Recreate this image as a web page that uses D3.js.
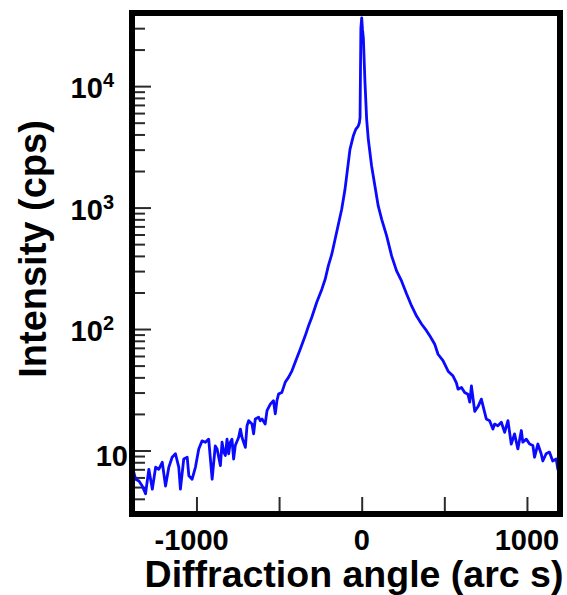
<!DOCTYPE html>
<html>
<head>
<meta charset="utf-8">
<script src="https://cdn.jsdelivr.net/npm/d3@7"></script>
<style>
  html, body { margin: 0; padding: 0; background: #fff; }
  svg { display: block; font-family: 'Liberation Sans', Arial, Helvetica, sans-serif; font-weight: bold; }
</style>
</head>
<body>
<svg id="chart" width="567" height="595"></svg>
<script>
// rocking curve (arc s, cps)
const angles = [
  -1388, -1368, -1348, -1328, -1308, -1288, -1267, -1247, -1228, -1207,
  -1187, -1167, -1147, -1127, -1107, -1097, -1077, -1056, -1046, -1026,
  -1006, -986, -966, -946, -926, -905, -886, -875, -855, -845,
  -835, -825, -815, -805, -795, -785, -775, -765, -745, -734,
  -724, -704, -694, -684, -664, -654, -644, -624, -614, -603,
  -584, -573, -553, -534, -523, -513, -503, -483, -463, -443,
  -422, -403, -372, -342, -322, -302, -272, -241, -221, -202,
  -181, -161, -141, -121, -101, -71, -51, -36, -21, -14,
  -10, -5, 0, 5, 10, 20, 30, 40, 60, 80,
  100, 121, 151, 181, 211, 241, 272, 302, 332, 362,
  392, 412, 442, 462, 492, 523, 553, 573, 583, 604,
  623, 643, 654, 664, 684, 704, 724, 744, 754, 774,
  794, 804, 824, 845, 865, 885, 905, 925, 945, 966,
  975, 996, 1016, 1036, 1046, 1066, 1086, 1096, 1116, 1136,
  1156, 1177, 1187, 1197
];
const intensity = [
  7.3, 5.8, 5.6, 5.1, 4.4, 7.0, 4.8, 7.3, 7.0, 8.0,
  5.1, 7.3, 8.8, 9.4, 7.3, 4.8, 8.5, 8.8, 6.2, 5.8,
  7.3, 10.3, 12.0, 11.7, 12.4, 5.8, 10.9, 10.3, 7.5, 11.7,
  9.7, 9.1, 12.4, 9.4, 11.7, 12.4, 8.5, 11.0, 12.8, 15.0,
  12.8, 10.6, 16.0, 17.6, 16.5, 13.7, 18.2, 18.8, 17.6, 18.2,
  16.5, 21.3, 24.1, 25.7, 20.0, 25.7, 29.2, 30.1, 36.4, 40.0,
  45.3, 53.1, 68.3, 87.9, 106, 125, 166, 213, 257, 331,
  413, 548, 729, 968, 1414, 3014, 3880, 4405, 4690, 5000,
  5500, 30000, 36500, 29000, 25000, 10600, 5325, 3645, 2198, 1506,
  1031, 801, 584, 400, 301, 249, 194, 155, 128, 110,
  97, 88, 75, 62, 55, 45, 41, 36, 32, 33,
  30, 29, 25, 34, 21, 23, 26.5, 20.6, 18.2, 17.6,
  15.0, 16.5, 16.0, 17.1, 14.1, 17.6, 11.3, 13.7, 10.3, 14.6,
  11.7, 12.4, 11.3, 11.0, 8.8, 11.3, 9.4, 8.2, 9.4, 9.7,
  8.2, 8.5, 7.0, 7.6
];

const xDomain = [-1390, 1200];
const yDomain = [3, 40000];
const xMajorTicks = [-1000, -500, 0, 500, 1000];
const xTickLabels = [-1000, 0, 1000];
const yMajorTicks = [10, 100, 1000, 10000];
const yTickExponents = ['', '2', '3', '4'];
const xTitle = 'Diffraction angle (arc s)';
const yTitle = 'Intensity (cps)';

const margin = { left: 132, right: 7, top: 13, bottom: 81 };
const width = 567;
const height = 595;
const svg = d3.select('#chart');

const x = d3.scaleLinear().domain(xDomain).range([margin.left, width - margin.right]);
const y = d3.scaleLog().domain(yDomain).range([height - margin.bottom, margin.top]);
const points = angles.map((a, i) => ({ a, v: intensity[i] }));

svg
  .append('defs')
  .append('clipPath')
  .attr('id', 'plot-clip')
  .append('rect')
  .attr('x', margin.left)
  .attr('y', margin.top)
  .attr('width', width - margin.left - margin.right)
  .attr('height', height - margin.top - margin.bottom);

// minor log ticks (2..9 of each decade), then the labelled decades
const minorTicks = y.ticks().filter((t) => !yMajorTicks.includes(t));
svg
  .append('g')
  .attr('transform', `translate(${margin.left},0)`)
  .call(d3.axisRight(y).tickValues(minorTicks).tickSize(13).tickFormat(''))
  .call((g) => g.select('.domain').remove())
  .call((g) => g.selectAll('line').attr('stroke', '#2a2a2a').attr('stroke-width', 2));
svg
  .append('g')
  .attr('transform', `translate(${margin.left},0)`)
  .call(d3.axisRight(y).tickValues(yMajorTicks).tickSize(19).tickFormat(''))
  .call((g) => g.select('.domain').remove())
  .call((g) => g.selectAll('line').attr('stroke', '#2a2a2a').attr('stroke-width', 2));

svg
  .append('g')
  .attr('transform', `translate(0,${height - margin.bottom})`)
  .call(d3.axisTop(x).tickValues(xMajorTicks).tickSize(17).tickFormat(''))
  .call((g) => g.select('.domain').remove())
  .call((g) => g.selectAll('line').attr('stroke', '#2a2a2a').attr('stroke-width', 2));

const line = d3
  .line()
  .x((d) => x(d.a))
  .y((d) => y(d.v));

svg
  .append('path')
  .datum(points)
  .attr('clip-path', 'url(#plot-clip)')
  .attr('fill', 'none')
  .attr('stroke', '#0a0aff')
  .attr('stroke-width', 2.8)
  .attr('stroke-linejoin', 'round')
  .attr('d', line);

svg
  .append('rect')
  .attr('x', margin.left)
  .attr('y', margin.top)
  .attr('width', width - margin.left - margin.right)
  .attr('height', height - margin.top - margin.bottom)
  .attr('fill', 'none')
  .attr('stroke', '#000')
  .attr('stroke-width', 6);

// y tick labels: 10, 10², 10³, 10⁴
yMajorTicks.forEach((t, i) => {
  const exp = yTickExponents[i];
  const label = svg
    .append('text')
    .attr('text-anchor', 'end')
    .attr('font-size', 29)
    .attr('fill', '#000');
  if (exp) {
    label.attr('x', 114).attr('y', y(t) + 12);
    label.append('tspan').text('10');
    label.append('tspan').attr('font-size', 20).attr('dy', -11).text(exp);
  } else {
    label.attr('x', 128).attr('y', y(t) + 16).text('10');
  }
});

// x tick labels, digits centred on the tick
xTickLabels.forEach((t) => {
  const probe = svg.append('text').attr('font-size', 29).text(String(Math.abs(t)));
  const half = probe.node().getComputedTextLength() / 2;
  probe.remove();
  svg
    .append('text')
    .attr('x', x(t) + half)
    .attr('y', 550)
    .attr('text-anchor', 'end')
    .attr('font-size', 29)
    .attr('fill', '#000')
    .text(String(t));
});

svg
  .append('text')
  .attr('x', 354)
  .attr('y', 587)
  .attr('text-anchor', 'middle')
  .attr('font-size', 37.5)
  .attr('fill', '#000')
  .text(xTitle);

svg
  .append('text')
  .attr('transform', 'translate(46,249) rotate(-90)')
  .attr('text-anchor', 'middle')
  .attr('font-size', 38)
  .attr('fill', '#000')
  .text(yTitle);
</script>
</body>
</html>
